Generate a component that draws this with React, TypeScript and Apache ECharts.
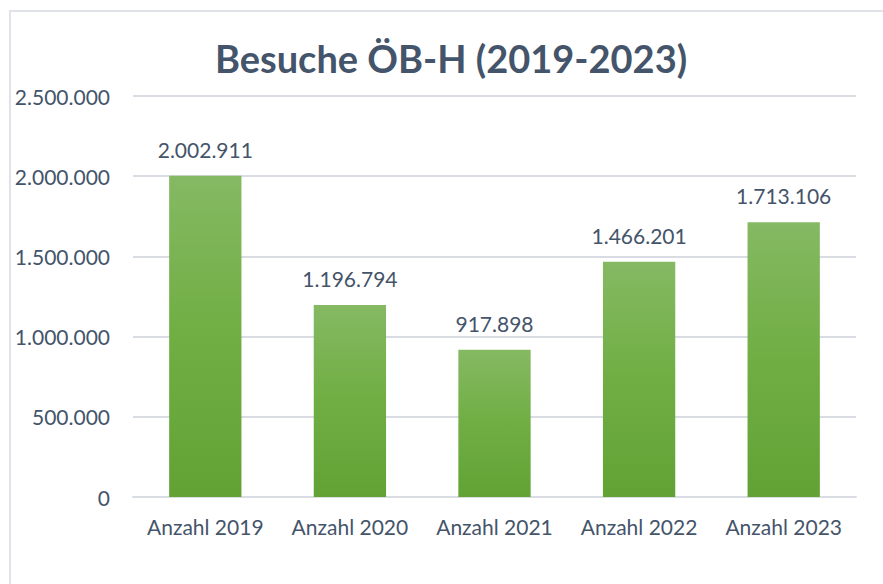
import React, { useEffect, useRef } from "react";
import * as echarts from "echarts";

const categories = ["Anzahl 2019", "Anzahl 2020", "Anzahl 2021", "Anzahl 2022", "Anzahl 2023"];
const visits = [2002911, 1196794, 917898, 1466201, 1713106];
const titleText = "Besuche ÖB-H (2019-2023)";
const yMax = 2500000;
const yInterval = 500000;

const fmt = (v: number) => String(Math.round(v)).replace(/\B(?=(\d{3})+(?!\d))/g, ".");

const TEXT = "#44546A";
const FONT = "Lato, 'Noto Sans', sans-serif";

export default function App() {
  const ref = useRef<HTMLDivElement>(null);
  useEffect(() => {
    if (!ref.current) return;
    const chart = echarts.init(ref.current, null, { renderer: "svg" });
    chart.setOption({
      animation: false,
      backgroundColor: "#ffffff",
      textStyle: { fontFamily: FONT },
      title: {
        text: titleText,
        left: 446,
        top: 34,
        textAlign: "center",
        textStyle: { color: TEXT, fontSize: 38, fontWeight: "bold", fontFamily: FONT },
      },
      graphic: [
        {
          type: "rect",
          shape: { x: 10, y: 11, width: 900, height: 600 },
          style: { fill: "none", stroke: "#dfe3e9", lineWidth: 2 },
          silent: true,
        },
      ],
      grid: { left: 133, right: 27, top: 96, bottom: 87 },
      xAxis: {
        type: "category",
        data: categories,
        axisLine: { show: true, lineStyle: { color: "#d9dde3", width: 2 } },
        axisTick: { show: false },
        axisLabel: { color: TEXT, fontSize: 21, margin: 19, interval: 0, fontFamily: FONT },
      },
      yAxis: {
        type: "value",
        min: 0,
        max: yMax,
        interval: yInterval,
        axisLine: { show: false },
        axisTick: { show: false },
        splitLine: { lineStyle: { color: "#d9dde3", width: 2 } },
        axisLabel: { color: TEXT, fontSize: 21, margin: 23, formatter: (v: number) => fmt(v), fontFamily: FONT },
      },
      series: [
        {
          type: "bar",
          data: visits,
          barWidth: "50%",
          itemStyle: {
            color: new echarts.graphic.LinearGradient(0, 0, 0, 1, [
              { offset: 0, color: "#85b963" },
              { offset: 0.5, color: "#70ae43" },
              { offset: 1, color: "#62a234" },
            ]),
          },
          label: {
            show: true,
            position: "top",
            distance: 16,
            color: TEXT,
            fontSize: 21,
            fontFamily: FONT,
            formatter: (p: any) => fmt(p.value),
          },
        },
      ],
    });
    return () => chart.dispose();
  }, []);
  return <div ref={ref} style={{ position: "absolute", left: 0, top: 0, width: 883, height: 584 }} />;
}
